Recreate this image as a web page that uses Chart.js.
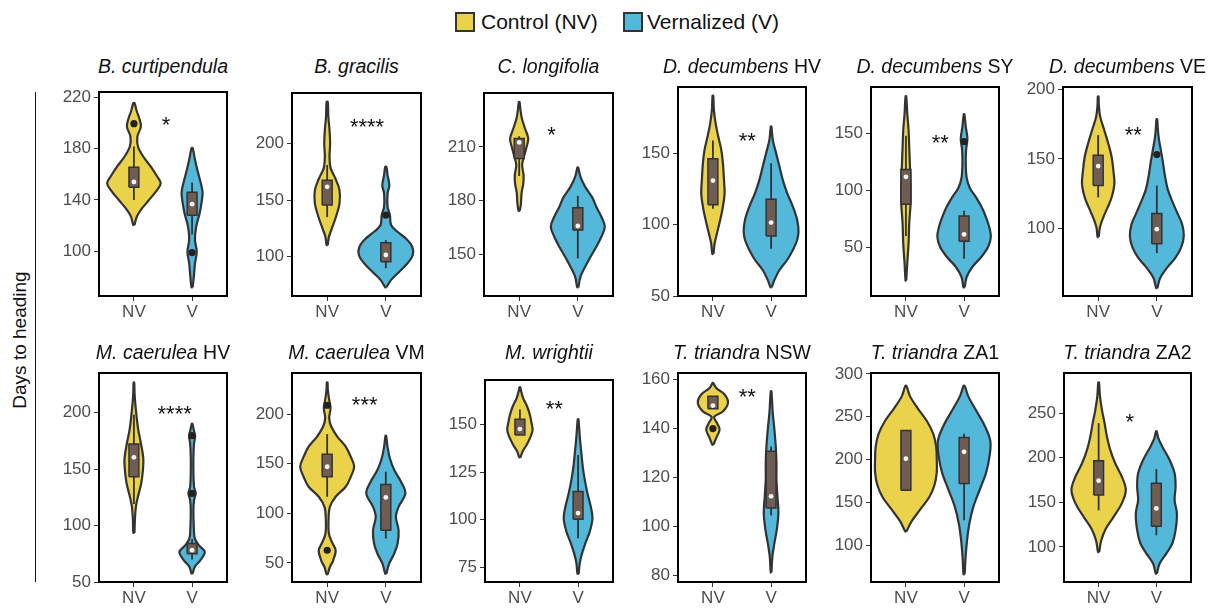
<!DOCTYPE html>
<html><head><meta charset="utf-8">
<script src="https://cdn.jsdelivr.net/npm/chart.js@4.4.1/dist/chart.umd.min.js"></script>
<style>
body{margin:0;background:#fff;width:1214px;height:608px;overflow:hidden;position:relative;font-family:"Liberation Sans",Arial,sans-serif;}
canvas{position:absolute;}
.ttl{position:absolute;font-size:19.5px;line-height:20px;color:#111;white-space:nowrap;transform:translate(-50%,-50%);}
.sw{position:absolute;top:12px;width:16px;height:16px;border:2px solid #333;}
.lt{position:absolute;top:22px;font-size:21px;line-height:22px;color:#111;white-space:nowrap;transform:translateY(-50%);}
.ylab{position:absolute;left:20px;top:340px;font-size:19px;color:#111;white-space:nowrap;transform:translate(-50%,-50%) rotate(-90deg);}
.yline{position:absolute;left:35px;top:92px;width:1px;height:490px;background:#111;}
</style></head><body>
<div class="sw" style="left:455px;background:#EAD34A"></div><div class="lt" style="left:481px">Control (NV)</div>
<div class="sw" style="left:623px;background:#54B8DA"></div><div class="lt" style="left:647px">Vernalized (V)</div>
<div class="ylab">Days to heading</div>
<div class="yline"></div>
<script>
// ---------------- DATA ----------------
const groups = ['NV', 'V'];
const species = ['B. curtipendula','B. gracilis','C. longifolia','D. decumbens','D. decumbens','D. decumbens',
                 'M. caerulea','M. caerulea','M. wrightii','T. triandra','T. triandra','T. triandra'];
const suffix  = ['','','','HV','SY','VE','HV','VM','','NSW','ZA1','ZA2'];
const yTickValues = [[100,140,180,220],[100,150,200],[150,180,210],[50,100,150],[50,100,150],[100,150,200],
                     [50,100,150,200],[50,100,150,200],[75,100,125,150],[80,100,120,140,160],[100,150,200,250,300],[100,150,200,250]];
const yMin = [65.1,65.3,126.5,50,7.3,51,50,30.8,67.4,77.3,57,60.6];
const yMax = [224.2,244.6,240.2,196.3,190.9,202,235,241.5,173.2,162.7,301,295];

// violin outlines: [days, half-width]
const vNV_Bcurt = [[120.5,0.01],[127,0.05],[132.3,0.12],[140,0.26],[147.9,0.40],[153,0.46],[158.3,0.40],[166,0.29],[173.9,0.16],[181.7,0.07],[189.5,0.06],[197.3,0.12],[203.9,0.09],[209,0.05],[215.6,0.01]];
const vV_Bcurt  = [[71.9,0.01],[80,0.03],[90.6,0.05],[99.7,0.08],[108.8,0.05],[119.2,0.07],[129.7,0.13],[140.1,0.17],[146,0.18],[153.1,0.15],[163.5,0.09],[171.3,0.05],[180.5,0.01]];
const vNV_Bgrac = [[110.3,0.01],[117.6,0.03],[125,0.08],[135.3,0.15],[147.1,0.21],[158.8,0.21],[169.1,0.14],[178,0.06],[188.2,0.04],[200,0.05],[211.7,0.04],[223.5,0.02],[236.7,0.01]];
const vV_Bgrac  = [[73,0.01],[79.5,0.09],[86.8,0.23],[94.2,0.37],[101.5,0.46],[108.8,0.45],[116.2,0.34],[122,0.2],[128,0.09],[136.8,0.07],[144.1,0.03],[155.9,0.03],[163.2,0.06],[172,0.03],[179.4,0.01]];
const vNV_Clong = [[174.2,0.01],[178.3,0.03],[183.9,0.04],[189.5,0.07],[194.2,0.075],[199.8,0.05],[204.4,0.08],[210,0.126],[214.7,0.155],[220.3,0.10],[225.9,0.046],[230.5,0.023],[235.2,0.006]];
const vV_Clong  = [[131.4,0.01],[137.3,0.046],[142.9,0.126],[148.5,0.218],[154.1,0.316],[159.7,0.402],[165.3,0.46],[170.9,0.402],[176.4,0.316],[182,0.241],[187.6,0.126],[193.2,0.046],[198.5,0.006]];
const vNV_DdHV  = [[79.4,0.01],[86.9,0.03],[93.9,0.07],[103.3,0.126],[112.6,0.172],[122,0.201],[131.3,0.19],[143,0.172],[152.3,0.144],[161.6,0.092],[171,0.046],[180.3,0.017],[190.2,0.006]];
const vV_DdHV   = [[56.1,0.01],[61.2,0.057],[68.2,0.144],[75.2,0.276],[82.2,0.374],[89.2,0.448],[95.1,0.471],[103.3,0.448],[112.6,0.374],[122,0.276],[131.3,0.201],[140.6,0.144],[150,0.086],[159.3,0.029],[168.6,0.006]];
const vNV_DdSY  = [[20.7,0.006],[36,0.023],[53.5,0.046],[71,0.057],[88.6,0.08],[106.1,0.08],[122.2,0.069],[138.2,0.057],[152.9,0.046],[167.5,0.023],[182.7,0.006]];
const vV_DdSY   = [[14.9,0.01],[24.2,0.046],[33,0.144],[41.8,0.299],[50.5,0.414],[59.3,0.46],[68.1,0.431],[76.8,0.374],[85.6,0.299],[94.4,0.201],[101.8,0.103],[110.5,0.046],[123.7,0.029],[135.4,0.034],[145.6,0.057],[155.8,0.029],[166.9,0.006]];
const vNV_DdVE  = [[93.7,0.01],[100.4,0.029],[107.7,0.086],[115,0.161],[122.3,0.23],[132,0.276],[141.7,0.259],[151.4,0.23],[161.2,0.172],[170.9,0.103],[180.6,0.034],[189.1,0.011],[195.1,0.006]];
const vV_DdVE   = [[56.7,0.01],[64,0.057],[71.3,0.172],[78.6,0.316],[85.9,0.414],[94.4,0.46],[102.9,0.431],[111.4,0.345],[119.9,0.259],[128.4,0.184],[138.1,0.138],[147.8,0.103],[156.3,0.069],[164.8,0.034],[172.1,0.017],[178.7,0.006]];
const vNV_McHV  = [[93.5,0.01],[104.8,0.017],[116.6,0.034],[125.5,0.069],[137.4,0.126],[149.2,0.155],[159.5,0.161],[171.3,0.126],[184.6,0.075],[196.5,0.046],[208.3,0.023],[217.2,0.011],[226.6,0.006]];
const vV_McHV   = [[57.5,0.01],[63.4,0.046],[69.3,0.144],[76.7,0.218],[82.6,0.115],[88.6,0.046],[98.8,0.029],[113.7,0.023],[122.5,0.034],[128.5,0.063],[134.3,0.034],[146.2,0.023],[161,0.023],[172.8,0.034],[179.3,0.052],[184.6,0.029],[190,0.006]];
const vNV_McVM  = [[38.5,0.01],[45.9,0.046],[52.7,0.103],[62.8,0.144],[71.2,0.08],[79.7,0.029],[93.1,0.023],[106.6,0.046],[116.7,0.144],[126.8,0.316],[136.9,0.402],[147,0.46],[157.1,0.402],[167.2,0.316],[177.4,0.172],[187.5,0.069],[196,0.034],[206.1,0.057],[214.5,0.034],[224.6,0.011],[232,0.006]];
const vV_McVM   = [[39.2,0.01],[49.3,0.057],[59.5,0.144],[69.6,0.201],[83,0.218],[96.5,0.172],[106.6,0.218],[120.1,0.333],[131.9,0.259],[143.7,0.144],[155.5,0.069],[167.2,0.029],[178.1,0.006]];
const vNV_Mwri  = [[132.7,0.01],[135.7,0.046],[139.2,0.115],[143.5,0.184],[147,0.218],[150.5,0.201],[154.9,0.172],[159.2,0.126],[163.6,0.057],[167.1,0.023],[169.4,0.006]];
const vV_Mwri   = [[71.7,0.01],[77.3,0.029],[82.5,0.069],[87.8,0.126],[93.8,0.201],[100.8,0.247],[106.9,0.218],[113.9,0.161],[120.9,0.115],[127.8,0.08],[134.8,0.057],[141.8,0.034],[148.7,0.017],[152.6,0.006]];
const vNV_TtNSW = [[133.4,0.01],[136.2,0.057],[139.6,0.115],[142.3,0.069],[144.8,0.023],[147,0.172],[150.5,0.259],[153.9,0.201],[156.6,0.057],[158.6,0.006]];
const vV_TtNSW  = [[81.2,0.006],[87.8,0.023],[93.2,0.057],[98.7,0.098],[105.5,0.126],[112.3,0.109],[119.1,0.092],[125.9,0.092],[132.7,0.08],[139.6,0.057],[146.4,0.029],[155.2,0.006]];
const vNV_TtZA1 = [[116,0.01],[128,0.1],[142,0.25],[156,0.40],[170,0.49],[185,0.53],[200,0.53],[215,0.52],[230,0.47],[245,0.36],[260,0.2],[274,0.07],[286,0.01]];
const vV_TtZA1  = [[66,0.01],[85,0.025],[105,0.05],[125,0.09],[145,0.16],[165,0.27],[185,0.38],[205,0.44],[222,0.45],[240,0.35],[258,0.2],[274,0.07],[286,0.01]];
const vNV_TtZA2 = [[94.3,0.01],[107.5,0.046],[120.6,0.126],[133.7,0.259],[148.8,0.402],[163.7,0.471],[178.7,0.402],[193.8,0.287],[208.7,0.201],[223.7,0.144],[238.8,0.103],[253.7,0.057],[268.7,0.023],[284.4,0.006]];
const vV_TtZA2  = [[70,0.01],[81.3,0.057],[92.5,0.172],[103.8,0.276],[118.7,0.333],[137.5,0.356],[152.5,0.316],[167.4,0.333],[182.5,0.316],[197.5,0.23],[212.4,0.103],[221.9,0.034],[229.6,0.006]];

const violinsNV = [vNV_Bcurt,vNV_Bgrac,vNV_Clong,vNV_DdHV,vNV_DdSY,vNV_DdVE,vNV_McHV,vNV_McVM,vNV_Mwri,vNV_TtNSW,vNV_TtZA1,vNV_TtZA2];
const violinsV  = [vV_Bcurt,vV_Bgrac,vV_Clong,vV_DdHV,vV_DdSY,vV_DdVE,vV_McHV,vV_McVM,vV_Mwri,vV_TtNSW,vV_TtZA1,vV_TtZA2];

// box summaries
const q1NV   = [150,145.6,203.5,113.8,88,130.8,143.2,136.9,144.4,148.1,164,158.1];
const q3NV   = [165.6,167.6,214.7,146,118.4,152.7,172.2,159.6,152.6,153.2,234,196.7];
const medNV  = [154,161.7,212.5,130.8,112,144.9,160.4,147,147.5,149.4,201,174.2];
const loNV   = [140,135,193.7,111,60,122.3,119,116.7,144.4,148.1,164,141];
const hiNV   = [181.7,181,216,158.8,148,167.2,198,179.9,157.8,153.2,234,238.8];
const q1V    = [128,95.6,163.4,92,55.5,88.8,75,83,100.3,107.5,172,123.2];
const q3V    = [146.1,112.3,175.9,117.8,77.5,110.6,84,129.2,114.8,130.7,225.6,171.3];
const medV   = [136.7,101.5,165.7,101.4,61.4,99.3,78.2,116.1,103.5,112.3,209,143.1];
const loV    = [113,89.8,147.6,83.1,40,82,70,74.7,90.3,104.5,129,113];
const hiV    = [153.7,114.7,182.6,143,82.1,130.8,88,142,133.9,132.7,230,187.3];
const outNV  = [[199.5],[],[],[],[],[],[],[62.8,209],[],[140],[],[]];
const outV   = [[99],[136.8],[],[],[143],[153.2],[128.5,179.5],[],[],[],[],[]];

// significance labels
const sigLabel = ['*','****','*','**','**','**','****','***','**','**','','*'];
const sigX     = [1.55,1.68,1.55,1.59,1.59,1.6,1.7,1.64,1.59,1.59,1.5,1.54];
const sigY     = [202.6,219,219.3,162.1,146.5,170.9,203.3,213.8,160.5,155,0,245.5];

// ---------------- LAYOUT / STYLE ----------------
const panelBox = [[99,92,227,296],[292,93,421,296],[484,93,613,296],[678,87,806,296],[871,87,999,296],[1063,87,1192,296],
                  [99,373,227,582],[292,373,421,582],[485,380,613,582],[678,373,806,582],[871,373,999,582],[1064,373,1191,582]];
const titleY = [66,66,66,66,66,66,352,352,352,352,352,352];
const COL_NV = '#EAD34A', COL_V = '#54B8DA', COL_BOX = '#6F5D53', COL_LINE = '#333333';
const FONT = '"Liberation Sans", Arial, sans-serif';
const BOXW = 0.085;
const PADL = 56, PADT = 14, PADR = 8, XAXH = 34;

function outline(pairs, c) {
  const right = pairs.map(p => ({x: c + p[1], y: p[0]}));
  const left = pairs.slice().reverse().map(p => ({x: c - p[1], y: p[0]}));
  const pts = right.concat(left);
  pts.push({x: pts[0].x, y: pts[0].y});
  return pts;
}
function rectPts(c, lo, hi) {
  return [{x:c-BOXW,y:lo},{x:c+BOXW,y:lo},{x:c+BOXW,y:hi},{x:c-BOXW,y:hi},{x:c-BOXW,y:lo}];
}

const panelPlugin = {
  id: 'panelPlugin',
  beforeDatasetDraw(chart, args) {
    const ds = chart.data.datasets[args.index];
    if (!ds.polyFill) return;
    const meta = args.meta, pts = meta.data, line = meta.dataset;
    if (line && typeof line.updateControlPoints === 'function') line.updateControlPoints(chart.chartArea, 'x');
    const ctx = chart.ctx;
    ctx.save();
    ctx.beginPath();
    ctx.moveTo(pts[0].x, pts[0].y);
    for (let k = 1; k < pts.length; k++) {
      const p = pts[k-1], q = pts[k];
      if (ds.tension > 0 && p.cp2x !== undefined && q.cp1x !== undefined) ctx.bezierCurveTo(p.cp2x, p.cp2y, q.cp1x, q.cp1y, q.x, q.y);
      else ctx.lineTo(q.x, q.y);
    }
    ctx.closePath();
    ctx.fillStyle = ds.polyFill;
    ctx.fill();
    ctx.restore();
  },
  afterDatasetsDraw(chart) {
    const i = chart.options.plugins.panelPlugin.idx;
    const ctx = chart.ctx, a = chart.chartArea;
    ctx.save();
    if (sigLabel[i]) {
      ctx.font = '22px ' + FONT;
      ctx.fillStyle = '#111';
      ctx.textAlign = 'center';
      ctx.textBaseline = 'alphabetic';
      ctx.fillText(sigLabel[i], chart.scales.x.getPixelForValue(sigX[i]), chart.scales.y.getPixelForValue(sigY[i]) + 12);
    }
    ctx.lineWidth = 2;
    ctx.strokeStyle = '#000';
    ctx.strokeRect(a.left, a.top, a.right - a.left, a.bottom - a.top);
    ctx.restore();
  }
};

for (let i = 0; i < 12; i++) {
  const [l, t, r, b] = panelBox[i];
  const cw = (r - l) + PADL + PADR, ch = (b - t) + PADT + XAXH;
  const cv = document.createElement('canvas');
  cv.width = cw; cv.height = ch;
  cv.style.left = (l - PADL) + 'px'; cv.style.top = (t - PADT) + 'px';
  cv.style.width = cw + 'px'; cv.style.height = ch + 'px';
  document.body.appendChild(cv);

  const ttl = document.createElement('div');
  ttl.className = 'ttl';
  ttl.style.left = ((l + r) / 2) + 'px';
  ttl.style.top = titleY[i] + 'px';
  ttl.innerHTML = '<i>' + species[i] + '</i>' + (suffix[i] ? ' ' + suffix[i] : '');
  document.body.appendChild(ttl);

  const datasets = [];
  [[violinsNV, COL_NV, 1, q1NV, q3NV, medNV, loNV, hiNV, outNV], [violinsV, COL_V, 2, q1V, q3V, medV, loV, hiV, outV]].forEach(g => {
    const [vs, col, c, q1, q3, med, lo, hi, outs] = g;
    datasets.push({data: outline(vs[i], c), showLine: true, tension: 0.35, borderColor: COL_LINE, borderWidth: 2.2,
      borderJoinStyle: 'round', pointRadius: 0, polyFill: col, order: 5});
    datasets.push({data: [{x:c,y:lo[i]},{x:c,y:hi[i]}], showLine: true, tension: 0, borderColor: COL_LINE, borderWidth: 1.8,
      pointRadius: 0, order: 4});
    datasets.push({data: rectPts(c, q1[i], q3[i]), showLine: true, tension: 0, borderColor: COL_LINE, borderWidth: 1.5,
      pointRadius: 0, polyFill: COL_BOX, order: 3});
    datasets.push({data: outs[i].map(v => ({x:c, y:v})), showLine: false, pointRadius: 3.6, pointBackgroundColor: '#222',
      pointBorderWidth: 0, order: 2});
    datasets.push({data: [{x:c,y:med[i]}], showLine: false, pointRadius: 2.4, pointBackgroundColor: '#f4f4f4',
      pointBorderWidth: 0, order: 1});
  });

  const tickFont = {family: FONT, size: 17};
  new Chart(cv, {
    type: 'scatter',
    data: {datasets},
    options: {
      responsive: false, animation: false, devicePixelRatio: 1,
      layout: {padding: {top: PADT, right: PADR, left: 0, bottom: 0}},
      plugins: {legend: {display: false}, tooltip: {enabled: false}, panelPlugin: {idx: i}},
      scales: {
        x: {type: 'linear', min: 0.4, max: 2.6,
          afterFit(s) { s.height = XAXH; },
          afterBuildTicks(s) { s.ticks = [{value: 1}, {value: 2}]; },
          ticks: {callback: v => groups[v - 1], font: tickFont, color: '#4d4d4d', padding: 1, maxRotation: 0},
          grid: {drawOnChartArea: false, drawTicks: true, tickLength: 5, color: '#333', tickWidth: 1},
          border: {display: false}},
        y: {type: 'linear', min: yMin[i], max: yMax[i],
          afterFit(s) { s.width = PADL; },
          afterBuildTicks(s) { s.ticks = yTickValues[i].map(v => ({value: v})); },
          ticks: {font: tickFont, color: '#4d4d4d', padding: 3},
          grid: {drawOnChartArea: false, drawTicks: true, tickLength: 5, color: '#333', tickWidth: 1},
          border: {display: false}}
      }
    },
    plugins: [panelPlugin]
  });
}
</script>
</body></html>
